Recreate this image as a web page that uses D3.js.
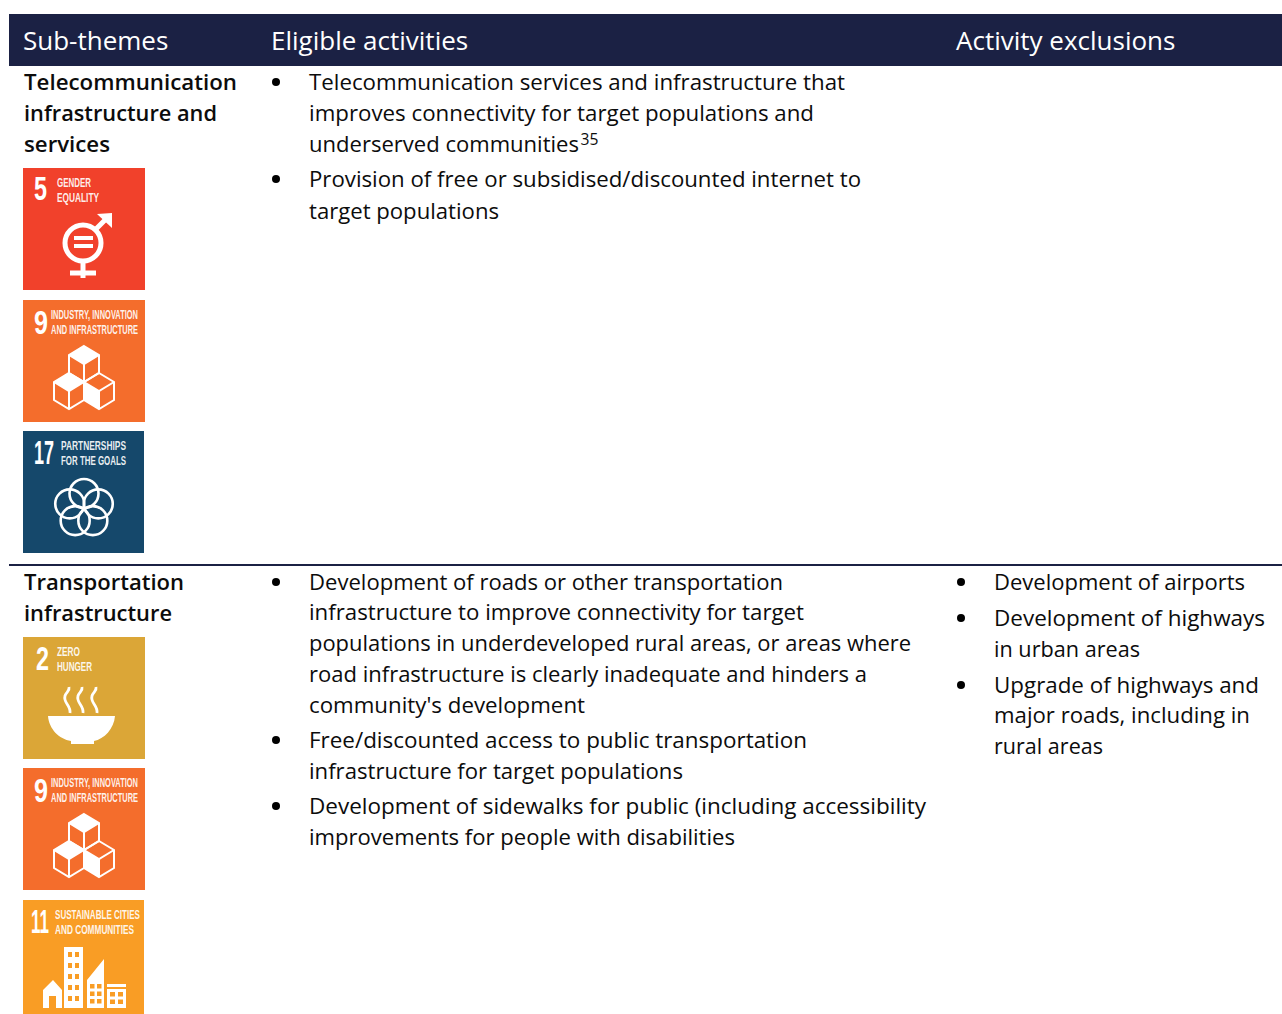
<!DOCTYPE html>
<html>
<head>
<meta charset="utf-8">
<script src="https://cdn.jsdelivr.net/npm/d3@7"></script>
<style>
	html, body { margin: 0; padding: 0; background: #fff; overflow: hidden; }
	svg { display: block; }
	text { font-family: "Open Sans", "Noto Sans", sans-serif; }
</style>
</head>
<body>
<svg id="chart" width="1282" height="1014"></svg>
<script>
/* table text */
var columns = ["Sub-themes", "Eligible activities", "Activity exclusions"];

var themeLines1 = ["Telecommunication", "infrastructure and", "services"];
var themeLines2 = ["Transportation", "infrastructure"];

var eligible1 = [
	["Telecommunication services and infrastructure that", "improves connectivity for target populations and", "underserved communities|35"],
	["Provision of free or subsidised/discounted internet to", "target populations"]
];
var eligible2 = [
	["Development of roads or other transportation", "infrastructure to improve connectivity for target", "populations in underdeveloped rural areas, or areas where", "road infrastructure is clearly inadequate and hinders a", "community's development"],
	["Free/discounted access to public transportation", "infrastructure for target populations"],
	["Development of sidewalks for public (including accessibility", "improvements for people with disabilities"]
];
var exclusions2 = [
	["Development of airports"],
	["Development of highways", "in urban areas"],
	["Upgrade of highways and", "major roads, including in", "rural areas"]
];

/* SDG tiles */
var goals = {
	2: { color: "#DBA637", lines: ["ZERO", "HUNGER"], widths: [23, 35], textX: 34, numX: 13, numW: 13, numY: 33, glyph: "bowl" },
	5: { color: "#F1412B", lines: ["GENDER", "EQUALITY"], widths: [34, 42], textX: 34, numX: 11, numW: 13, numY: 32, glyph: "gender" },
	9: { color: "#F46D2C", lines: ["INDUSTRY, INNOVATION", "AND INFRASTRUCTURE"], widths: [87, 87], textX: 28, numX: 11, numW: 14, numY: 34, glyph: "cubes" },
	11: { color: "#F99D25", lines: ["SUSTAINABLE CITIES", "AND COMMUNITIES"], widths: [85, 79], textX: 32, numX: 8, numW: 18, numY: 33, glyph: "city" },
	17: { color: "#15486B", lines: ["PARTNERSHIPS", "FOR THE GOALS"], widths: [65, 65], textX: 38, numX: 11, numW: 20, numY: 33, glyph: "rings" }
};
var tileGoals1 = [5, 9, 17];
var tileGoals2 = [2, 9, 11];

/* where each line of text ends, so the rag follows the original */
var themeEnds1 = [237, 217, 110];
var themeEnds2 = [184, 172];
var eligibleEnds1 = [845, 814, 579, 861, 499];
var eligibleEnds2 = [783, 804, 911, 867, 585, 807, 683, 926, 735];
var exclusionEnds2 = [1245, 1265, 1140, 1259, 1250, 1103];

var svg = d3.select("#chart");
var fontSize = 22.4;
var ink = "#0c0c0c";
var tileFont = "'Liberation Sans Narrow', 'Liberation Sans', sans-serif";

var drawLines = function(g, lines, x, baselines, ends, size, weight) {
	var t = g.selectAll(null)
		.data(lines)
		.enter()
		.append("text")
		.attr("x", x)
		.attr("y", function(d, i) { return baselines[i]; })
		.attr("font-size", size)
		.attr("font-weight", weight || 400)
		.attr("fill", ink);

	t.each(function(d, i) {
		var parts = d.split("|");
		d3.select(this).append("tspan")
			.attr("textLength", ends[i] - x)
			.attr("lengthAdjust", "spacingAndGlyphs")
			.text(parts[0]);
		if (parts[1]) {
			d3.select(this).append("tspan")
				.attr("dx", 1.5)
				.attr("dy", -7)
				.attr("font-size", size * 0.7)
				.text(parts[1]);
		}
	});
};

var drawBullets = function(g, groups, bulletX, textX, baselines, ends) {
	var k = 0;
	groups.forEach(function(lines) {
		var ys = baselines.slice(k, k + lines.length);
		g.append("circle")
			.attr("cx", bulletX)
			.attr("cy", ys[0] - 8)
			.attr("r", 4)
			.attr("fill", "#000");
		drawLines(g, lines, textX, ys, ends.slice(k, k + lines.length), fontSize);
		k += lines.length;
	});
};

/* glyphs are drawn on the 122 unit tile */
var glyphs = {
	gender: function(g) {
		var s = g.append("g").attr("fill", "none").attr("stroke", "#fff").attr("stroke-width", 5);
		s.append("circle").attr("cx", 60).attr("cy", 75).attr("r", 18);
		s.append("path").attr("d", "M60 94V110M47 105H73M73 61L86 48");
		g.append("path").attr("fill", "#fff").attr("d", "M74 46L89 45L89 60Z");
		g.append("rect").attr("x", 51).attr("y", 68).attr("width", 19).attr("height", 4).attr("fill", "#fff");
		g.append("rect").attr("x", 51).attr("y", 76).attr("width", 19).attr("height", 4).attr("fill", "#fff");
	},
	cubes: function(g) {
		var hex = [[0, 0, 1], [-15, 27, 0], [15, 27, 2]];
		hex.forEach(function(c) {
			var cx = 61 + c[0], top = 46 + c[1];
			var cube = g.append("g").attr("fill", "none").attr("stroke", "#fff").attr("stroke-width", 2);
			cube.append("path").attr("d", "M" + cx + " " + top + "l15 9v18l-15 9l-15 -9v-18z");
			cube.append("path").attr("d", "M" + (cx - 15) + " " + (top + 9) + "l15 9l15 -9M" + cx + " " + (top + 18) + "v18");
			var face = c[2] === 2
				? "M" + cx + " " + (top + 18) + "v18l-15 -9v-18z"
				: "M" + cx + " " + top + "l15 9l-15 9l-15 -9z";
			g.append("path").attr("d", face).attr("fill", "#fff");
		});
	},
	rings: function(g) {
		d3.range(5).forEach(function(i) {
			var a = -Math.PI / 2 + i * 2 * Math.PI / 5;
			g.append("circle")
				.attr("cx", 61 + 15 * Math.cos(a))
				.attr("cy", 77.5 + 15 * Math.sin(a))
				.attr("r", 14.5)
				.attr("fill", "none")
				.attr("stroke", "#fff")
				.attr("stroke-width", 2.6);
		});
	},
	bowl: function(g) {
		g.append("path").attr("fill", "#fff").attr("d", "M25 79H92C91 92 81 102 71 104V107H48V104C36 102 26 92 25 79Z");
		[46, 59, 73].forEach(function(x) {
			g.append("path")
				.attr("d", "M" + (x + 1) + " 76C" + (x + 2) + " 68 " + (x - 6) + " 66 " + (x - 4) + " 59C" + (x - 3) + " 55 " + (x + 1) + " 54 " + x + " 50")
				.attr("fill", "none")
				.attr("stroke", "#fff")
				.attr("stroke-width", 2.8);
		});
	},
	city: function(g) {
		g.append("path").attr("fill", "#fff").attr("d",
			"M41 47H60V108H41ZM64 80L81 59V108H64ZM84 84H103V108H84ZM20 90L30 80L39 90V108H20Z");
		var holes = g.append("g").attr("fill", "#F99D25");
		d3.range(5).forEach(function(r) {
			[45, 52].forEach(function(x) {
				holes.append("rect").attr("x", x).attr("y", 52 + r * 11).attr("width", 4).attr("height", 5);
			});
		});
		d3.range(3).forEach(function(r) {
			[67, 74].forEach(function(x) {
				holes.append("rect").attr("x", x).attr("y", 84 + r * 7.5).attr("width", 4.5).attr("height", 4.5);
			});
			if (r < 2) {
				[87, 95].forEach(function(x) {
					holes.append("rect").attr("x", x).attr("y", 92 + r * 7.5).attr("width", 5).attr("height", 4.5);
				});
			}
		});
		holes.append("rect").attr("x", 84).attr("y", 87).attr("width", 19).attr("height", 2);
		holes.append("rect").attr("x", 26).attr("y", 96).attr("width", 7).attr("height", 12);
	}
};

var drawTile = function(id, x, y, w) {
	var goal = goals[id];
	var g = svg.append("g").attr("transform", "translate(" + x + "," + y + ")");

	g.append("rect").attr("width", w).attr("height", 122).attr("fill", goal.color);

	/* the number is squeezed with a transform so its box stays clear of the label */
	var num = g.append("text")
		.style("font-family", tileFont)
		.attr("font-size", 33)
		.attr("font-weight", 700)
		.attr("fill", "#fff")
		.text(id);
	var sx = goal.numW / num.node().getComputedTextLength();
	num.attr("transform", "translate(" + goal.numX + "," + goal.numY + ") scale(" + sx + ",1)");

	g.selectAll(null)
		.data(goal.lines)
		.enter()
		.append("text")
		.style("font-family", tileFont)
		.attr("x", goal.textX)
		.attr("y", function(d, i) { return 19 + i * 15; })
		.attr("font-size", 12.5)
		.attr("font-weight", 700)
		.attr("fill", "#fff")
		.attr("fill-opacity", 0.92)
		.attr("textLength", function(d, i) { return goal.widths[i]; })
		.attr("lengthAdjust", "spacingAndGlyphs")
		.text(function(d) { return d; });

	glyphs[goal.glyph](g);
};

/* header */
svg.append("rect").attr("x", 9).attr("y", 14).attr("width", 1273).attr("height", 52).attr("fill", "#1B2144");
svg.selectAll(".head")
	.data(columns)
	.enter()
	.append("text")
	.attr("class", "head")
	.attr("x", function(d, i) { return [23, 271, 956][i]; })
	.attr("y", 50)
	.attr("font-size", 26)
	.attr("fill", "#fff")
	.text(function(d) { return d; });

/* first row */
drawLines(svg, themeLines1, 24, [90, 121, 152], themeEnds1, fontSize, 600);
drawBullets(svg, eligible1, 276, 309, [90, 121, 152, 187, 219], eligibleEnds1);
tileGoals1.forEach(function(id, i) {
	drawTile(id, 23, [168, 300, 431][i], i === 2 ? 121 : 122);
});

/* rule between the rows */
svg.append("line")
	.attr("x1", 9).attr("x2", 1282)
	.attr("y1", 565).attr("y2", 565)
	.attr("stroke", "#1B2144")
	.attr("stroke-width", 2);

/* second row */
drawLines(svg, themeLines2, 24, [590, 621], themeEnds2, fontSize, 600);
drawBullets(svg, eligible2, 276, 309, [590, 620, 651, 682, 713, 748, 779, 814, 845], eligibleEnds2);
drawBullets(svg, exclusions2, 961, 994, [590, 626, 657, 693, 723, 754], exclusionEnds2);
tileGoals2.forEach(function(id, i) {
	drawTile(id, 23, [637, 768, 900][i], i === 2 ? 121 : 122);
});
</script>
</body>
</html>
